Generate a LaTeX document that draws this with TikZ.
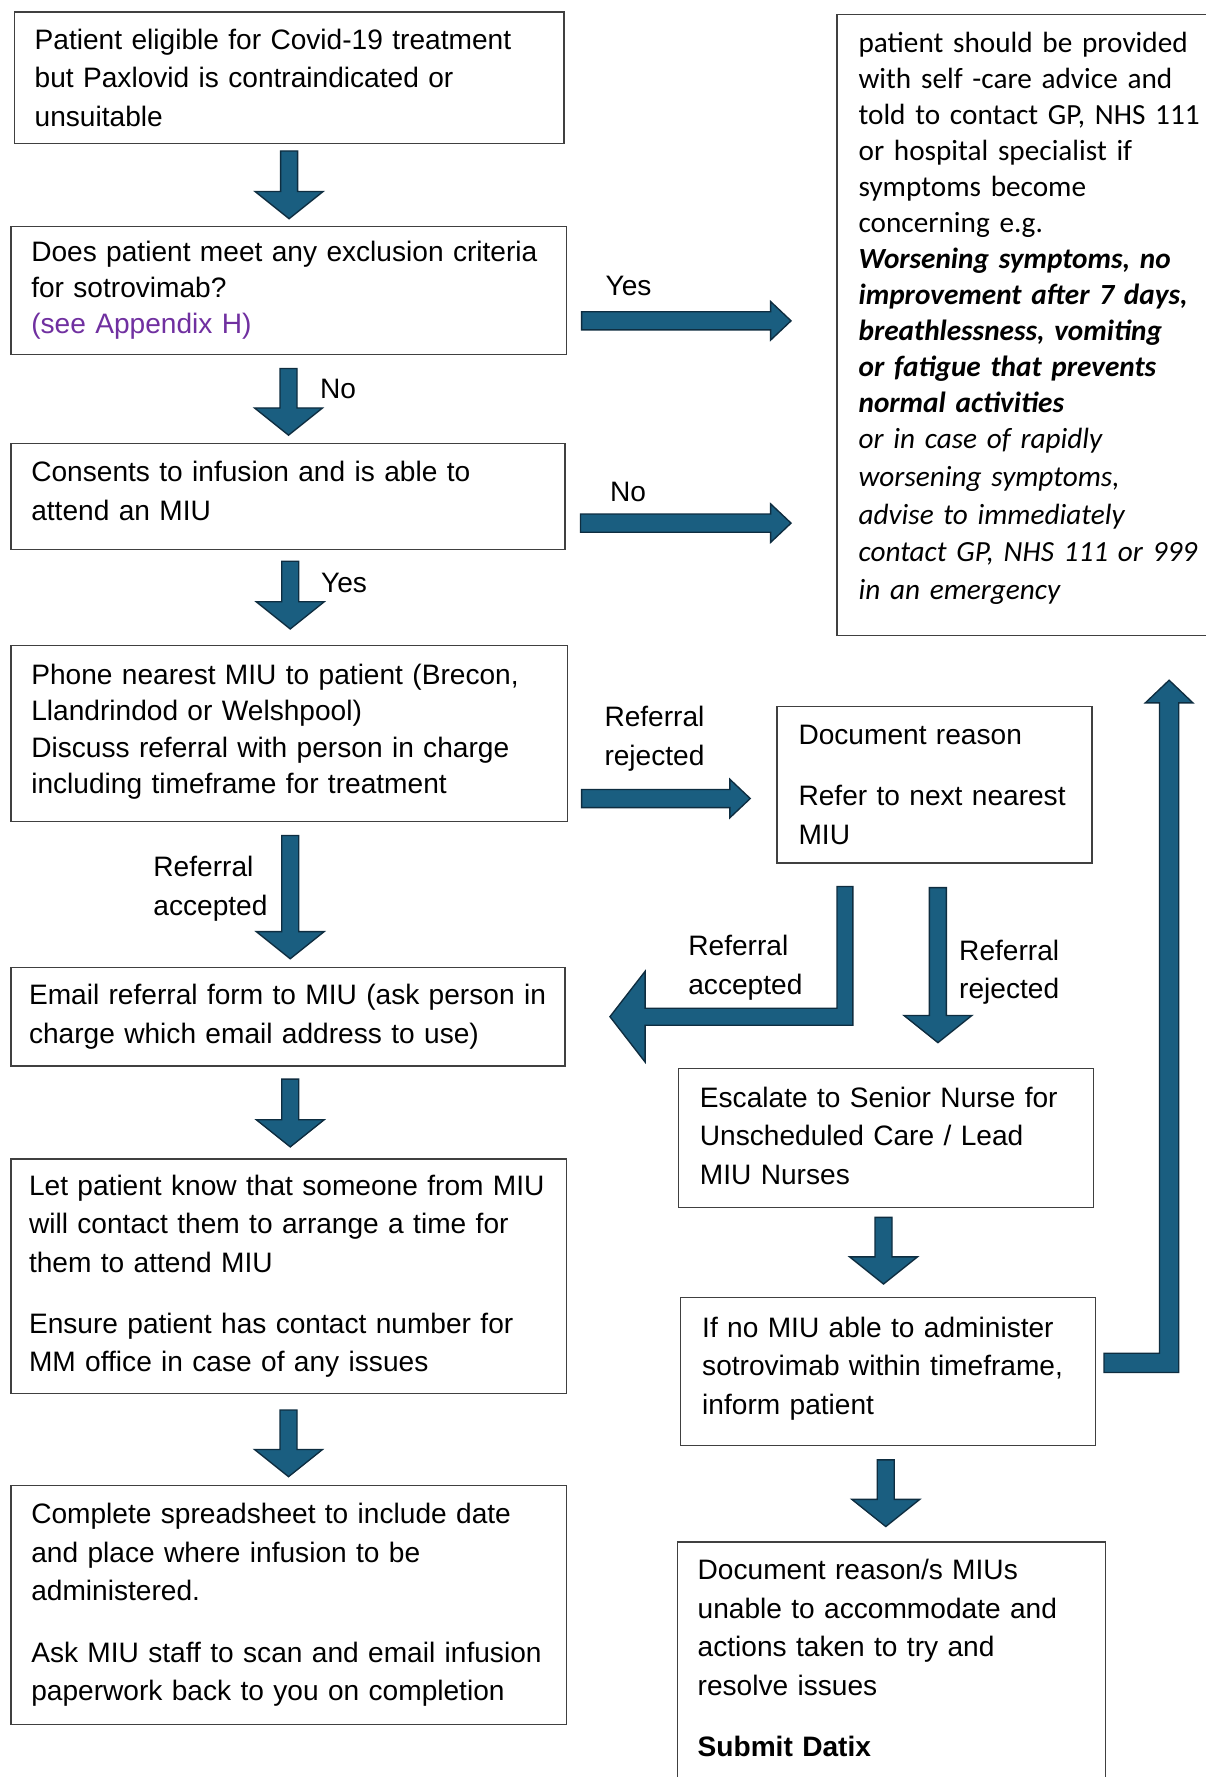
\documentclass[tikz,border=0pt]{standalone}
\usepackage{fontspec}
\setmainfont{Liberation Sans}
\newfontfamily\calibrifont{Carlito}
\usetikzlibrary{calc}

\definecolor{arrowfill}{RGB}{26,94,128}
\definecolor{arrowedge}{RGB}{14,45,64}
\definecolor{linkpurple}{RGB}{112,48,160}

\tikzset{
	box/.style={draw=black!75, line width=0.6pt, anchor=north west, align=left,
		inner xsep=9pt, inner ysep=0pt, font=\fontsize{12.4}{17}\selectfont},
	lbl/.style={anchor=west, align=left, inner sep=0pt, font=\fontsize{12.4}{17}\selectfont},
	blockarrow/.style={fill=arrowfill, draw=arrowedge, line width=0.6pt, line join=miter}
}

% block arrow pointing down: #1 top of shaft, #2 tip
\newcommand{\downblock}[2]{%
	\draw[blockarrow] let \p1=(#1), \p2=(#2) in
		(\x1-3.75pt,\y1) -- (\x1+3.75pt,\y1) -- (\x1+3.75pt,\y2+12pt) -- (\x1+15pt,\y2+12pt)
		-- (\x1,\y2) -- (\x1-15pt,\y2+12pt) -- (\x1-3.75pt,\y2+12pt) -- cycle;}
% block arrow pointing right: #1 tail, #2 tip
\newcommand{\rightblock}[2]{%
	\draw[blockarrow] let \p1=(#1), \p2=(#2) in
		(\x1,\y1+4pt) -- (\x2-9pt,\y1+4pt) -- (\x2-9pt,\y1+8.5pt) -- (\x2,\y1)
		-- (\x2-9pt,\y1-8.5pt) -- (\x2-9pt,\y1-4pt) -- (\x1,\y1-4pt) -- cycle;}
% deepens the last line so the text of a box sits higher
\newcommand{\liftby}[1]{\rule[-#1]{0pt}{0pt}}

\begin{document}
\begin{tikzpicture}[x=0.5pt, y=-0.5pt]

	\useasboundingbox (0,0) rectangle (1064,1568);
	\clip (0,0) rectangle (1064,1568);

	% left column
	\node[box, text width=224.5pt, minimum height=58pt] (elig) at (12,10)
		{Patient eligible for Covid-19 treatment\\ but Paxlovid is contraindicated or\\ unsuitable};
	\node[box, text width=227pt, minimum height=56.5pt, font=\fontsize{12.4}{16}\selectfont] (excl) at (9,199)
		{Does patient meet any exclusion criteria\\ for sotrovimab?\\ {\color{linkpurple}(see Appendix H)}};
	\node[box, text width=226.5pt, minimum height=46.5pt] (consent) at (9,391)
		{Consents to infusion and is able to\\ attend an MIU\liftby{5pt}};
	\node[box, text width=227.5pt, minimum height=77.5pt, font=\fontsize{12.4}{15.9}\selectfont] (phone) at (9,569)
		{Phone nearest MIU to patient (Brecon,\\ Llandrindod or Welshpool)\\ Discuss referral with person in charge\\
		 including timeframe for treatment\liftby{4pt}};
	\node[box, text width=228.5pt, inner xsep=8pt, minimum height=43.5pt] (email) at (9,853)
		{Email referral form to MIU (ask person in\\ charge which email address to use)};
	\node[box, text width=229pt, inner xsep=8pt, minimum height=103.5pt] (inform) at (9,1022)
		{Let patient know that someone from MIU\\ will contact them to arrange a time for\\ them to attend MIU\\[10pt]
		 Ensure patient has contact number for\\ MM office in case of any issues};
	\node[box, text width=227pt, minimum height=105.5pt] (sheet) at (9,1310)
		{Complete spreadsheet to include date\\ and place where infusion to be\\ administered.\\[10pt]
		 Ask MIU staff to scan and email infusion\\ paperwork back to you on completion};

	% right column
	\node[box, text width=153pt, minimum height=274pt, inner xsep=9.5pt,
		font=\calibrifont\fontsize{12.9}{15.9}\selectfont] (advice) at (738,12)
		{patient should be provided\\ with self -care advice and\\ told to contact GP, NHS 111\\
		 or hospital specialist if\\ symptoms become\\ concerning e.g.\\
		 {\bfseries\itshape Worsening symptoms, no\\ improvement after 7 days,\\ breathlessness, vomiting\\
		 or fatigue that prevents\\ normal activities}\\
		 {\itshape or in case of rapidly\\[0.7pt] worsening symptoms,\\[0.7pt] advise to immediately\\[0.7pt]
		 contact GP, NHS 111 or 999\\[0.7pt] in an emergency}\liftby{8pt}};
	\node[box, text width=120pt, minimum height=69pt, inner xsep=9.5pt] (reason) at (685,623)
		{Document reason\\[10pt] Refer to next nearest\\ MIU};
	\node[box, text width=164pt, minimum height=61.5pt, inner xsep=9.5pt] (escalate) at (598,942)
		{Escalate to Senior Nurse for\\ Unscheduled Care / Lead\\ MIU Nurses\liftby{2pt}};
	\node[box, text width=164pt, minimum height=65.5pt, inner xsep=9.5pt] (nomiu) at (600,1144)
		{If no MIU able to administer\\ sotrovimab within timeframe,\\ inform patient\liftby{5pt}};
	\node[box, text width=171pt, minimum height=107.5pt] (datix) at (597,1360)
		{Document reason/s MIUs\\ unable to accommodate and\\ actions taken to try and\\ resolve issues\\[10pt]
		 \textbf{Submit Datix}\liftby{5pt}};

	% down arrows
	\downblock{$(elig.south)+(0,6)$}{$(elig.south |- excl.north)+(0,-6)$}
	\downblock{$(excl.south)+(0,12)$}{$(excl.south |- consent.north)+(0,-7)$}
	\downblock{$(consent.south)+(2,10)$}{$(consent.south |- phone.north)+(2,-14)$}
	\downblock{$(phone.south)+(1,12)$}{$(phone.south |- email.north)+(1,-7)$}
	\downblock{$(email.south)+(2,11)$}{$(email.south |- inform.north)+(2,-10)$}
	\downblock{$(inform.south)+(0,14)$}{$(inform.south |- sheet.north)+(0,-7)$}
	\downblock{$(reason.south)+(3,21)$}{$(reason.south |- escalate.north)+(3,-22)$}
	\downblock{$(escalate.south)+(-2,8)$}{$(escalate.south |- nomiu.north)+(-2,-11)$}
	\downblock{$(nomiu.south)+(-2,12)$}{$(nomiu.south |- datix.north)+(-2,-13)$}

	% right arrows
	\coordinate (yesS) at ($(excl.east)+(13,27)$);
	\coordinate (yesE) at ($(yesS -| advice.west)+(-40,0)$);
	\coordinate (noS) at ($(consent.east)+(13,23.5)$);
	\coordinate (noE) at ($(noS -| advice.west)+(-40,0)$);
	\coordinate (rejS) at ($(phone.east)+(12,57.5)$);
	\coordinate (rejE) at ($(rejS -| reason.west)+(-23,0)$);
	\rightblock{yesS}{yesE}
	\rightblock{noS}{noE}
	\rightblock{rejS}{rejE}

	% bent arrow back to the email step
	\coordinate (accTop) at ($(reason.south)+(-79,20)$);
	\coordinate (accTip) at ($(email.east)+(39,0)$);
	\draw[blockarrow] let \p1=(accTop), \p2=(accTip) in
		(\x1-3.5pt,\y1) -- (\x1+3.5pt,\y1) -- (\x1+3.5pt,\y2-3.75pt) -- (\x2+15.5pt,\y2-3.75pt)
		-- (\x2+15.5pt,\y2-20pt) -- (\x2,\y2) -- (\x2+15.5pt,\y2+20pt) -- (\x2+15.5pt,\y2+3.75pt)
		-- (\x1-3.5pt,\y2+3.75pt) -- cycle;

	% bent arrow up to the advice box
	\coordinate (backS) at ($(nomiu.east)+(7,-7.5)$);
	\coordinate (backTip) at ($(advice.south)+(121,39)$);
	\draw[blockarrow] let \p1=(backS), \p2=(backTip) in
		(\x1,\y1+4.25pt) -- (\x2-4.25pt,\y1+4.25pt) -- (\x2-4.25pt,\y2-10pt) -- (\x2-10.5pt,\y2-10pt)
		-- (\x2,\y2) -- (\x2+10.5pt,\y2-10pt) -- (\x2+4.25pt,\y2-10pt) -- (\x2+4.25pt,\y1-4.25pt)
		-- (\x1,\y1-4.25pt) -- cycle;

	% labels
	\node[lbl] (yesLbl) at (534,252) {Yes};
	\node[lbl] (noLbl) at (538,434) {No};
	\node[lbl] (noDown) at (282,343) {No};
	\node[lbl] (yesDown) at (283,514) {Yes};
	\node[lbl] (accLbl) at (135,784) {Referral\\ accepted};
	\node[lbl] (rejLbl) at (533,652) {Referral\\ rejected};
	\node[lbl] (accBent) at (607,854) {Referral\\ accepted};
	\node[lbl] (rejDown) at (846,858) {Referral\\ rejected};

\end{tikzpicture}
\end{document}
